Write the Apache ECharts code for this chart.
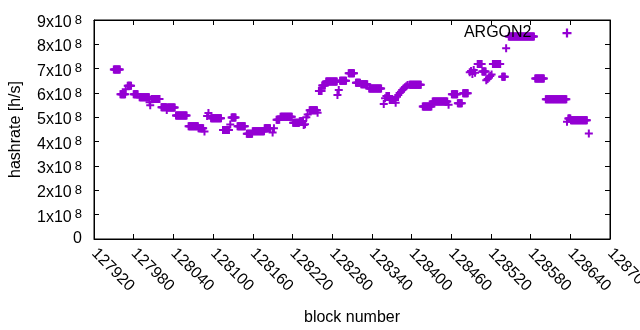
<!DOCTYPE html>
<html><head><meta charset="utf-8">
<script src="https://cdn.jsdelivr.net/npm/echarts@6/dist/echarts.min.js"></script>
<style>html,body{margin:0;padding:0;background:#fff}#c{width:640px;height:330px}</style>
</head><body><div id="c"></div>
<script>
// Runs of consecutive blocks sharing the same hashrate (value in units of 1e8 h/s)
const runStart = [127950,127960,127968,127971,127980,127989,128004,128005,128007,128022,128030,128031,128044,128063,128078,128087,128091,128093,128097,128115,128126,128128,128137,128151,128160,128178,128190,128192,128196,128202,128221,128231,128237,128239,128241,128243,128246,128258,128260,128265,128271,128288,128290,128292,128305,128316,128324,128336,128358,128360,128362,128367,128376,128378,128380,128382,128384,128386,128388,128390,128392,128394,128397,128417,128432,128456,128461,128470,128478,128488,128490,128492,128494,128496,128500,128507,128513,128515,128517,128519,128521,128523,128537,128543,128547,128587,128603,128635,128637,128641,128668];
const runEnd   = [127959,127967,127968,127976,127986,128003,128004,128005,128019,128029,128030,128042,128060,128077,128085,128087,128091,128093,128112,128124,128126,128134,128148,128159,128177,128186,128190,128192,128200,128219,128230,128236,128237,128239,128241,128243,128257,128258,128264,128269,128287,128288,128290,128301,128313,128322,128333,128354,128358,128360,128366,128375,128376,128378,128380,128382,128384,128386,128388,128390,128392,128394,128414,128430,128454,128456,128469,128476,128485,128488,128490,128492,128494,128496,128506,128512,128513,128515,128517,128519,128521,128534,128541,128543,128585,128600,128634,128635,128640,128665,128668];
const runValue = [6.97,5.95,6.15,6.30,5.95,5.83,5.62,5.50,5.75,5.41,5.30,5.40,5.08,4.63,4.55,4.42,5.05,5.18,4.96,4.48,4.71,4.99,4.63,4.33,4.43,4.55,4.38,4.55,4.90,5.02,4.78,4.84,4.68,4.72,5.00,5.12,5.29,5.19,6.08,6.31,6.47,5.92,6.12,6.50,6.81,6.42,6.36,6.19,5.55,5.78,5.88,5.71,5.60,5.85,5.92,6.00,6.05,6.12,6.18,6.24,6.28,6.33,6.34,5.45,5.65,5.52,5.95,5.58,5.99,6.85,6.90,6.78,6.95,6.83,7.19,6.88,6.52,6.58,6.64,6.70,6.76,7.19,6.67,7.84,8.32,6.60,5.74,4.82,4.95,4.88,4.34];
const valueUnit = 1e8;
const xTicks = [127920,127980,128040,128100,128160,128220,128280,128340,128400,128460,128520,128580,128640,128700];
const yTicks = [0,1e8,2e8,3e8,4e8,5e8,6e8,7e8,8e8,9e8];
const seriesName = 'ARGON2';

const data = [];
for (let i = 0; i < runStart.length; i++) {
  for (let b = runStart[i]; b <= runEnd[i]; b++) data.push([b, runValue[i] * valueUnit]);
}

const plus = 'path://M3,0L5,0L5,3L8,3L8,5L5,5L5,8L3,8L3,5L0,5L0,3L3,3Z';
const C = '#9400d3';
const FONT = 'Liberation Sans';
const xMin = xTicks[0], xMax = xTicks[xTicks.length-1], xStep = xTicks[1]-xTicks[0];
const yMin = yTicks[0], yMax = yTicks[yTicks.length-1], yStep = yTicks[1]-yTicks[0];

const axisCommon = {
  axisLine: {show: true, onZero: false, lineStyle: {color: '#000', width: 1}},
  axisTick: {show: true, inside: true, length: 5, lineStyle: {color: '#000', width: 1}},
  splitLine: {show: false}
};

const chart = echarts.init(document.getElementById('c'), null, {renderer: 'canvas'});
chart.setOption({
  animation: false,
  textStyle: {fontFamily: FONT},
  grid: {left: 94, right: 30, top: 20, bottom: 91, show: true, borderColor: '#000', borderWidth: 1,
         containLabel: false, outerBoundsMode: 'none'},
  legend: {
    right: 68.5, top: 25, padding: 0, itemWidth: 9, itemHeight: 9, align: 'right',
    textStyle: {fontSize: 16, color: '#000', fontFamily: FONT, padding: [0, 26, 0, 0]},
    data: [{name: seriesName, icon: plus, itemStyle: {color: C}}]
  },
  xAxis: [
    Object.assign({
      type: 'value', min: xMin, max: xMax, interval: xStep, position: 'bottom',
      name: 'block number', nameLocation: 'middle', nameGap: 71,
      nameTextStyle: {fontSize: 16, color: '#000', fontFamily: FONT},
      axisLabel: {rotate: -45, fontSize: 16, color: '#000', margin: 12, fontFamily: FONT,
                  formatter: function (v) { return String(v); }}
    }, axisCommon),
    Object.assign({
      type: 'value', min: xMin, max: xMax, interval: xStep, position: 'top',
      axisLabel: {show: false}
    }, axisCommon)
  ],
  yAxis: [
    Object.assign({
      type: 'value', min: yMin, max: yMax, interval: yStep, position: 'left',
      name: 'hashrate [h/s]', nameLocation: 'middle', nameGap: 70, nameRotate: 90,
      nameTextStyle: {fontSize: 16, color: '#000', fontFamily: FONT},
      axisLabel: {
        margin: 12, fontSize: 16, color: '#000', fontFamily: FONT,
        formatter: function (v) {
          if (v === 0) return '0';
          return '{b|' + Math.round(v / valueUnit) + 'x10}{s|8}';
        },
        rich: {
          b: {fontSize: 16, lineHeight: 16, verticalAlign: 'bottom', color: '#000', fontFamily: FONT},
          s: {fontSize: 13, lineHeight: 21, verticalAlign: 'middle', color: '#000', fontFamily: FONT, padding: [0, 0, 0, 3]}
        }
      }
    }, axisCommon),
    Object.assign({
      type: 'value', min: yMin, max: yMax, interval: yStep, position: 'right',
      axisLabel: {show: false}
    }, axisCommon)
  ],
  series: [{
    type: 'scatter', name: seriesName, xAxisIndex: 0, yAxisIndex: 0,
    data: data, symbol: plus, symbolSize: 8,
    itemStyle: {color: C, opacity: 1},
    emphasis: {disabled: true}
  }]
});
</script></body></html>
